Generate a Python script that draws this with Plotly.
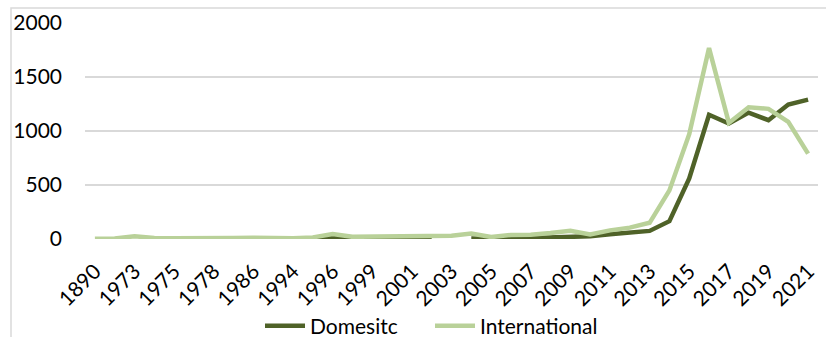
import plotly.graph_objects as go

# Year categories (evenly spaced on a category axis)
years = ["1890", "1972", "1973", "1974", "1975", "1977", "1978", "1985", "1986",
         "1990", "1994", "1995", "1996", "1998", "1999", "2000", "2001", "2002",
         "2003", "2004", "2005", "2006", "2007", "2008", "2009", "2010", "2011",
         "2012", "2013", "2014", "2015", "2016", "2017", "2018", "2019", "2020",
         "2021"]

domestic = [None, None, None, None, None, None, None, None, None,
            None, None, 2, 12, 3, 2, 2, 5, 3,
            None, 5, 2, 5, 10, 15, 15, 25, 45,
            60, 75, 165, 560, 1150, 1070, 1170, 1100, 1245,
            1290]

international = [2, 5, 25, 10, 8, 12, 8, 10, 12,
                 5, 8, 15, 45, 20, 20, 20, 28, 22,
                 30, 50, 18, 37, 40, 55, 77, 43, 80,
                 105, 150, 450, 970, 1768, 1075, 1220, 1205, 1085,
                 790]

y_ticks = [0, 500, 1000, 1500, 2000]

DARK = "#4f6228"
LIGHT = "#b9d199"
GRID = "#d9d9d9"
FONT = "Lato"

fig = go.Figure()
fig.add_trace(go.Scatter(x=years, y=domestic, name="Domesitc", mode="lines",
                         line=dict(color=DARK, width=4.5), connectgaps=False))
fig.add_trace(go.Scatter(x=years, y=international, name="International", mode="lines",
                         line=dict(color=LIGHT, width=4.5), connectgaps=False))

W, H = 827, 338
L, R, T, B = 85, 9, 23, 99
pw, ph = W - L - R, H - T - B

def px_to_paper_x(px):
    return (px - L) / pw

def px_to_paper_y(py):
    return (H - B - py) / ph

# chart frame: top edge and left edge drawn as one open path
fx0, fx1 = px_to_paper_x(11), px_to_paper_x(W - 1)
fy0, fy1 = px_to_paper_y(H - 1), px_to_paper_y(8)
frame = [
    dict(type="path", xref="paper", yref="paper",
         path=f"M {fx0} {fy0} L {fx0} {fy1} L {fx1} {fy1}",
         line=dict(color=GRID, width=1.5), fillcolor="rgba(0,0,0,0)",
         layer="above"),
]

fig.update_layout(
    width=W, height=H,
    margin=dict(l=L, r=R, t=T, b=B, autoexpand=False),
    paper_bgcolor="white", plot_bgcolor="white",
    font=dict(family=FONT, size=21, color="black"),
    showlegend=True,
    legend=dict(orientation="h", x=px_to_paper_x(260), xanchor="left",
                y=px_to_paper_y(326), yanchor="middle",
                font=dict(family=FONT, size=21, color="black"),
                itemwidth=40, entrywidth=115, bgcolor="rgba(0,0,0,0)"),
    hovermode=False,
    shapes=frame,
)

fig.update_xaxes(type="category", categoryorder="array", categoryarray=years,
                 range=[-0.5, len(years) - 0.5], automargin=False,
                 tickmode="array", tickvals=years[::2], ticktext=years[::2],
                 tickangle=-45, showgrid=False, showline=False, zeroline=False,
                 ticks="", ticklabelstandoff=15,
                 tickfont=dict(family=FONT, size=21, color="black"))

fig.update_yaxes(range=[0, 2000], tickmode="array", tickvals=y_ticks,
                 showgrid=True, gridcolor=GRID, gridwidth=1.5, automargin=False,
                 zeroline=False, showline=False, ticks="",
                 ticklabelstandoff=22,
                 tickfont=dict(family=FONT, size=21, color="black"))

fig.write_html("out.html")
